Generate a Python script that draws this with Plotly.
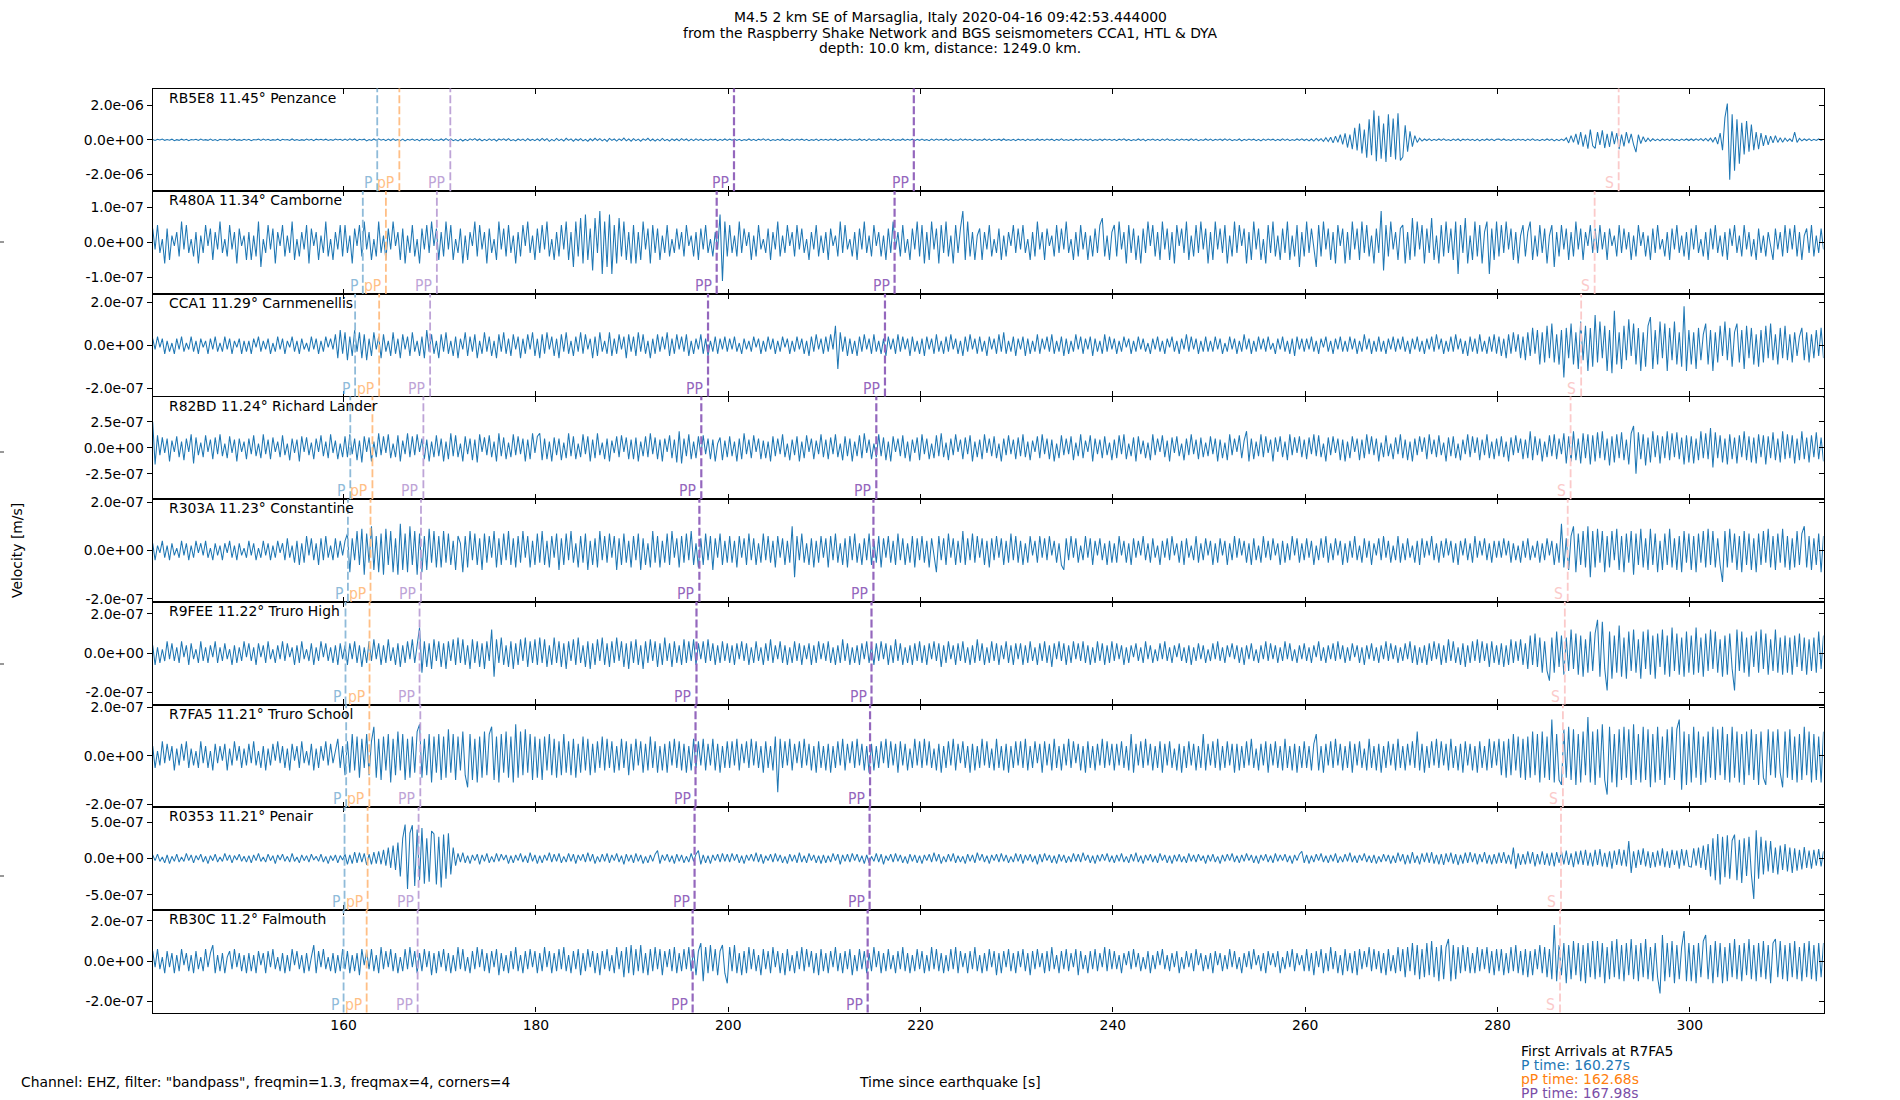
import plotly.graph_objects as go

W, H = 1900, 1100

# ---------------- data ----------------
stations = ["RB5E8", "R480A", "CCA1", "R82BD", "R303A", "R9FEE", "R7FA5", "R0353", "RB30C"]
distances = ["11.45", "11.34", "11.29", "11.24", "11.23", "11.22", "11.21", "11.21", "11.2"]
places = ["Penzance", "Camborne", "Carnmenellis", "Richard Lander", "Constantine",
          "Truro High", "Truro School", "Penair", "Falmouth"]

# arrival times (s since earthquake) per station
P_t = [163.5, 162.0, 161.2, 160.7, 160.45, 160.2, 160.27, 160.1, 160.0]
pP_t = [165.8, 164.4, 163.7, 163.0, 162.8, 162.7, 162.68, 162.5, 162.4]
PP1_t = [171.1, 169.7, 169.0, 168.3, 168.05, 167.9, 167.98, 167.8, 167.7]
PP2_t = [200.6, 198.8, 197.9, 197.2, 197.0, 196.7, 196.6, 196.5, 196.3]
PP3_t = [219.3, 217.3, 216.3, 215.4, 215.1, 214.9, 214.75, 214.7, 214.5]
S_t = [292.6, 290.1, 288.7, 287.6, 287.3, 287.0, 286.8, 286.6, 286.5]

# y axis: half range and tick step (m/s)
y_half = [3.0e-6, 1.47e-7, 2.38e-7, 4.94e-7, 2.12e-7, 2.61e-7, 2.12e-7, 7.1e-7, 2.55e-7]
y_step = [2e-6, 1e-7, 2e-7, 2.5e-7, 2e-7, 2e-7, 2e-7, 5e-7, 2e-7]
x_ticks = [160, 180, 200, 220, 240, 260, 280, 300]

# sampling of the (decimated) traces
t_start = 140.15
dt = 0.25
UNIT = 1e-8  # trace values below are in units of 1e-8 m/s

rb5e8 = [
 2,-4,3,-1,5,-3,2,-2,4,-5, 1,-3,4,-2,3,-5,2,-1,3,-4, 5,-2,1,-3,4,-4,2,-5,3,-1, 2,-3,5,-2,4,-3,1,-4,3,-2,
 3,-5,2,-1,4,-3,5,-2,3,-4, 1,-2,4,-5,3,-1,2,-4,5,-3, 2,-4,1,-3,5,-2,3,-5,4,-1, 3,-2,4,-4,2,-3,5,-1,3,-4,
 4,-3,6,-2,5,-5,3,-1,4,-6, 2,-4,5,-3,6,-2,3,-5,4,-4, 6,-3,2,-5,4,-6,3,-2,5,-4, 3,-6,4,-2,5,-3,6,-5,2,-4,
 5,-4,7,-3,6,-5,2,-6,4,-7, 3,-5,6,-2,7,-4,5,-6,3,-5, 6,-3,4,-7,5,-2,6,-4,7,-5, 2,-6,5,-3,4,-6,7,-4,3,-5,
 6,-5,8,-4,7,-9,3,-6,8,-5, 4,-7,9,-3,6,-8,5,-4,7,-6, 3,-8,6,-5,9,-4,7,-6,4,-9, 8,-3,5,-7,6,-4,10,-6,5,-8,
 7,-5,4,-8,6,-3,9,-6,5,-7, 4,-6,8,-5,3,-7,6,-4,5,-6, 7,-3,5,-6,4,-5,6,-3,4,-5, 3,-4,5,-2,4,-5,3,-4,5,-3,
 4,-2,5,-4,3,-5,2,-3,5,-4, 3,-5,4,-2,6,-3,4,-5,2,-4, 3,-4,5,-3,2,-5,4,-3,5,-2, 4,-4,3,-5,2,-3,4,-5,3,-2,
 3,-4,5,-2,4,-5,3,-3,4,-2, 5,-4,2,-3,5,-4,3,-5,6,-3, 2,-4,5,-3,4,-2,3,-5,4,-4, 2,-3,5,-4,3,-2,4,-5,3,-3,
 4,-3,2,-5,4,-3,5,-2,3,-4, 5,-3,4,-5,2,-4,6,-3,4,-2, 3,-5,4,-3,2,-4,5,-3,4,-5, 3,-2,4,-4,5,-3,2,-4,3,-5,
 4,-2,3,-5,4,-3,2,-4,5,-3, 3,-4,5,-2,4,-5,3,-3,6,-4, 2,-4,3,-5,4,-2,5,-4,3,-3, 4,-5,2,-3,4,-4,5,-2,3,-4,
 3,-5,4,-2,6,-4,3,-5,2,-4, 5,-3,4,-6,3,-2,5,-4,3,-5, 4,-3,6,-4,2,-5,4,-3,5,-2, 3,-4,6,-3,4,-5,2,-4,5,-3,
 4,-5,3,-2,5,-4,6,-3,4,-5, 2,-4,5,-6,3,-4,5,-2,4,-5, 3,-6,4,-3,5,-2,4,-5,3,-4, 6,-3,4,-5,2,-4,5,-3,6,-4,
 4,-6,5,-7,8,-5,7,-9,12,-10, 15,-18,22,-14,30,-26,38,-45,30,-55, 70,-62,95,-80,60,-105,120,-90,172,-125, 140,-110,95,-130,150,-100,125,-115,155,-120,
 -100,85,-70,50,-40,25,-15,10,-7,5, -4,6,-5,3,-4,5,-3,6,-4,2, -5,4,-3,5,-6,4,-2,5,-4,3, -5,4,-6,3,-4,5,-3,4,-5,3,
 4,-3,5,-4,2,-5,4,-3,5,-2, 3,-5,4,-3,6,-4,2,-5,3,-4, 5,-3,4,-6,3,-5,4,-4,12,-18, 25,-15,35,-28,45,-40,30,-52,60,-35,
 -50,45,-30,55,-48,35,-42,50,-25,40, -55,30,-38,45,-20,35,-28,-72,30,-22, 18,-12,10,-8,6,-5,4,-6,5,-3, 4,-5,6,-4,3,-5,4,-3,5,-4,
 5,-4,6,-3,7,-5,8,-6,10,-12, 15,-25,40,-60,130,212,-233,150,-180,120, -140,100,-85,110,-70,90,-60,45,-55,40, -35,28,-30,22,-18,25,-15,12,-14,10,
 -8,6,-10,45,-15,8,-6,5,-4,6,-5,3,-4,5,-3,4,
]

r480a = [
 4,-2,5,-3,1,-6,4,-5,2,-1, 3,-4,6,-2,5,-3,1,-4,3,-6, 2,-3,5,-1,4,-5,3,-2,6,-3, 1,-4,5,-2,3,-6,4,-1,2,-5,
 3,-5,2,-4,6,-7,1,-3,5,-2, 4,-6,3,-1,5,-4,2,-3,6,-5, 1,-4,3,-2,5,-6,4,-1,3,-5, 2,-3,6,-4,1,-5,3,-2,5,-4,
 5,-3,2,-6,4,-1,5,-4,6,-2, 3,-5,1,-4,6,-3,2,-5,4,-2, 6,-1,3,-5,4,-6,2,-3,5,-4, 1,-6,4,-2,5,-3,6,-1,4,-5,
 3,-4,6,-2,5,-5,1,-3,4,-6, 2,-5,3,-1,6,-4,5,-2,3,-6, 4,-3,1,-5,6,-2,4,-4,5,-3, 2,-6,3,-4,5,-1,6,-3,2,-5,
 4,-3,5,-2,6,-4,1,-5,3,-4, 5,-2,6,-5,3,-7,6,-4,7,-6, 8,-5,4,-8,7,-3,9,-9,6,-7, 8,-9,5,-6,7,-4,6,-5,3,-6,
 5,-6,3,-5,6,-2,4,-6,5,-3, 4,-5,2,-3,5,-4,1,-3,4,-2, 3,-4,5,-1,2,-4,3,-5,4,-2, 5,-3,1,-4,3,-2,8,-11,6,-4,
 5,-3,2,-4,6,-3,4,-1,3,-5, 2,-4,5,-2,1,-3,4,-5,3,-2, 6,-4,2,-3,5,-1,3,-4,5,-2, 4,-3,1,-5,3,-2,5,-4,2,-3,
 3,-5,4,-1,2,-4,6,-3,5,-2, 1,-4,3,-5,4,-2,6,-3,2,-4, 5,-1,3,-4,2,-5,4,-3,6,-2, 3,-4,5,-3,1,-5,4,-2,6,-4,
 5,-6,3,-5,6,-2,4,-6,5,-3, 6,-4,2,-6,5,-3,4,9,-5,6, -4,3,-5,2,4,-5,3,-2,5,-4, 1,-3,4,-5,2,-4,3,-1,5,-3,
 4,-2,5,-3,1,-5,3,-4,6,-2, 3,-5,4,-1,2,-4,5,-3,4,-2, 6,-3,1,-5,3,-4,5,-2,3,-5, 2,-4,4,-3,5,7,-4,2,-5,3,
 5,-4,6,-2,3,-6,5,-3,4,-5, 2,-6,4,-3,6,-1,5,-4,3,-5, 6,-2,4,-5,3,-6,5,-1,4,-3, 6,-5,2,-4,5,-3,6,-2,4,-6,
 3,-5,6,-2,4,-3,5,-6,2,-4, 6,-3,5,-1,4,-6,3,-5,6,-2, 4,-5,1,-6,5,-3,6,-4,2,-5, 4,-3,6,-5,2,-4,5,-7,3,-4,
 6,-3,4,-2,-7,5,-4,6,-2,4, -5,3,-6,5,-1,4,-6,3,-5,6, -2,4,-5,6,-3,5,-4,2,-6,4, -3,9,-8,5,-4,6,-2,3,-5,4,
 5,-6,3,-5,7,-4,6,-2,5,-6, 4,-3,7,-5,2,-6,5,-4,6,-3, 4,-5,6,-9,5,-3,7,-6,2,-5, 6,-4,5,-6,3,6,-9,4,-5,6,
 -4,5,-3,6,-2,4,-5,3,-6,2, 5,-4,3,6,-5,2,-4,5,-3,4, -6,2,5,-7,3,-4,5,-2,4,-5, 3,-4,6,-2,4,-5,3,-1,5,-3,
 4,-3,5,-2,3,-5,4,-1,2,-4, 5,-3,4,-2,3,-5,2,-4,5,-1, 3,-4,2,-5,4,-3,5,-2,1,-4, 3,-5,4,-2,5,-3,2,-4,3,-5,
 4,-2,5,-3,1,-4,3,-5,4,-2, 5,-3,2,-4,3,-5,4,-1,5,-3, 2,-4,5,-2,3,-4,1,-5,4,-3, 2,-4,3,-1,-5,4,-2,3,-4,5,
 -3,4,-2,5,-4,3,-5,2,4,-3,5,-4,2,-3,4,-2,
]

cca1 = [
 3,-2,4,-1,3,-4,2,-3,1,-4, 3,-2,4,-3,1,-2,4,-3,2,-4, 3,-1,2,-4,3,-2,4,-3,1,-3, 4,-2,3,-4,2,-1,3,-4,2,-3,
 2,-4,3,-1,4,-3,2,-2,3,-4, 1,-3,4,-2,3,-4,2,-1,4,-3, 2,-4,3,-2,1,-3,4,-2,3,-4, 2,-3,4,-1,3,-2,5,-6,7,-4,
 6,-7,4,-5,7,-3,6,-6,5,-7, 3,-5,6,-2,4,-6,5,-3,2,-5, 6,-4,3,-6,5,-2,4,-5,6,-3, 2,-5,4,-6,7,-3,5,-4,2,-6,
 5,-3,6,-4,2,-5,4,-6,3,-2, 6,-5,4,-3,5,-6,2,-4,6,-3, 4,-5,2,-6,5,-3,6,-4,3,-5, 5,-2,4,-6,3,-4,5,-2,6,-5,
 3,-6,5,-4,6,-2,4,-5,3,-6, 5,-3,6,-4,2,-5,4,-3,6,-4, 5,-2,3,-6,4,-5,6,-3,2,-4, 6,-5,3,-4,5,-2,4,-6,5,-3,
 4,-5,6,-3,5,-4,2,-6,3,-4, 5,-3,4,-2,6,-5,3,-4,5,-2, 4,-3,5,-5,2,-4,3,-2,5,-4, 3,-5,2,-3,4,-4,3,-2,4,-3,
 3,-2,4,-3,1,-4,3,-2,2,-3, 4,-1,3,-4,2,-3,4,-2,3,-4, 2,-3,4,-1,3,-4,2,-3,4,-2, 3,-4,2,-5,4,-3,5,-2,3,-4,
 4,-3,5,-2,9,-11,6,-3,4,-5, 3,-4,2,-5,4,-3,5,-2,3,-4, 5,-3,2,-4,3,-5,4,-2,3,-4, 5,-3,4,-2,3,-5,4,-3,2,-4,
 3,-5,4,-2,3,-4,5,-3,2,-4, 4,-3,5,-2,3,-4,2,-5,4,-3, 5,-2,3,-4,4,-3,2,-5,4,-2, 3,-4,5,-3,6,-4,2,-3,4,-5,
 3,-2,4,-5,3,-4,2,-3,5,-4, 3,-2,4,-3,5,-4,2,-3,4,-5, 3,-4,2,-3,5,-2,4,-4,3,-2, 4,-5,3,-3,2,-4,5,-3,4,-2,
 3,-4,2,-3,4,-1,3,-4,2,-3, 4,-2,3,-3,1,-4,3,-2,4,-3, 2,-4,3,-1,4,-3,2,-4,3,-2, 5,-3,4,-2,3,-4,2,-3,4,-3,
 2,-3,4,-2,3,-4,1,-3,4,-2, 3,-4,2,-3,5,-2,3,-4,2,-3, 4,-2,3,-3,4,-2,1,-4,3,-2, 4,-3,2,-4,3,-5,4,-2,3,-3,
 3,-2,4,-3,2,-4,3,-1,4,-3, 2,-4,3,-2,4,-3,2,-3,4,-2, 3,-4,2,-3,5,-2,3,-4,2,-3, 4,-3,2,-4,3,-2,4,-3,3,-2,
 4,-3,2,-4,3,-2,4,-3,2,-4, 3,-2,4,-3,5,-2,3,-4,2,-3, 4,-3,5,-2,3,-4,2,-5,4,-3, 3,-4,5,-3,2,-4,4,-3,5,-4,
 4,-5,3,-6,5,-4,6,-3,5,-6, 4,-7,6,-5,8,-4,7,-9,6,-8, 9,-6,10,-8,5,-9,7,-15,8,-6, 10,-9,6,-11,11,-7,9,-12,8,-10,
 14,-8,11,-6,9,-12,7,-13,16,-9, 6,-11,9,-7,12,-5,10,-9,8,-12, 6,-10,9,13,-11,7,-9,11,-6,10, -12,8,-7,11,-9,6,-10,18,-12,7,
 -9,6,-11,8,-7,5,10,-9,7,-12, 6,-8,9,-5,11,-7,8,-10,6,10, -8,7,-11,9,-6,8,-9,5,-10,7, -8,9,-6,10,-7,5,-9,8,-6,9,
 -7,5,-8,6,-5,4,8,-7,6,-8,5,-6,7,-5,8,-6,
]

r82bd = [
 25,-16,12,-7,10,-5,9,-13,7,-4, 11,-9,6,-12,9,-4,13,-15,10,-7, 5,-9,12,-4,8,-11,10,-6,13,-8, 4,-10,11,-5,8,-13,9,-4,6,-11,
 9,-6,12,-8,4,-10,13,-6,8,-11, 10,-4,6,-9,12,-7,4,-12,9,-5, 8,-13,11,-4,10,-7,5,-11,9,-4, 12,-8,6,-10,13,-5,7,-11,4,-9,
 11,-9,13,-6,9,-12,7,-14,11,-4, 10,-13,6,-9,14,-7,11,-5,13,-10, 4,-9,12,-13,7,-6,14,-9,11,-7, 13,-4,9,-11,8,-13,6,-9,12,-8,
 9,-13,6,-11,14,-8,12,-9,4,-13, 11,-6,9,-12,8,-14,13,-4,10,-7, 12,-9,6,-13,14,-8,10,-11,5,-9, 13,-7,11,-6,9,-13,8,-11,14,-5,
 11,14,-12,9,-11,6,-13,10,-7,9, -12,5,-10,14,-8,11,-11,4,-9,13, -6,11,-13,8,-10,14,-7,5,-11,9, -13,7,-5,11,-9,12,-4,10,-11,8,
 -11,10,-13,6,-8,11,-9,14,-6,10, -11,8,-13,9,-4,12,-10,8,-14,16, -15,9,-8,13,-11,6,-10,11,-7,12, -6,9,-11,8,-13,4,10,-12,7,-9,
 11,-8,6,-13,9,-11,14,-6,8,-10, 12,-4,9,-11,7,-10,6,-13,11,-8, 9,-6,13,-9,4,-12,8,-7,11,-13, 6,-10,12,-4,9,-11,7,-6,13,-9,
 8,-11,10,-6,13,-9,4,-12,11,-8, 9,-13,6,-8,12,-10,14,-5,8,-11, 4,-9,13,-8,10,-12,6,-13,11,-4, 9,-8,12,-10,6,-13,8,-5,10,-12,
 13,-6,9,-11,4,-10,12,-8,14,-9, 5,-12,9,-7,13,-4,8,-11,10,-6, 12,-13,6,-9,8,-11,13,-5,9,-8, 11,-10,4,-13,9,-7,12,-6,8,-11,
 10,-8,13,-9,6,-12,7,-4,11,-10, 13,-6,9,-11,8,-13,4,-10,12,-7, 9,-6,11,-12,5,-8,13,-10,7,-4, 12,-13,9,-6,8,-10,11,-7,5,-12,
 8,-10,12,-6,13,-11,4,-8,10,-13, 11,-6,7,-10,5,-12,13,-7,9,-4, 12,-9,7,-13,10,-5,11,-8,4,-12, 9,-7,13,-6,8,-11,10,-9,5,-8,
 11,-6,9,-13,8,-10,5,-12,13,-7, 9,-4,12,-10,7,16,-13,9,-11,6, -8,13,-9,11,-5,8,-13,10,-4,11, -9,6,-12,13,-7,10,-5,11,-9,8,
 -11,10,-6,13,-8,12,-9,4,-13,10, -7,11,-5,9,-12,8,-13,6,-10,11, -4,9,-12,8,-10,13,-6,11,-7,9, -13,5,-9,12,-8,4,-11,10,-6,13,
 -10,8,-12,6,-13,9,-7,11,-4,10, -11,13,-6,8,-9,12,-7,5,-13,10, -8,11,-10,4,-12,8,-6,13,-9,11, -5,10,-12,8,-7,13,-10,6,-11,9,
 -8,11,-9,6,-13,10,-7,12,-5,9, -11,8,-10,16,-12,11,-7,9,-13,6, -9,12,-8,13,-11,9,-6,14,-15,11, -13,16,-12,9,-15,14,-10,13,-16,12,
 -13,15,-10,16,-12,9,-17,11,-14,13, -10,15,-12,8,-16,14,21,-25,15,-11, 13,-17,10,-14,16,-9,12,-15,11,-10, 16,-12,14,-9,15,-11,10,-16,12,-14,
 11,-15,9,-12,16,-10,14,-11,19,-19, 15,-10,12,-14,9,-16,13,-11,10,-15, 12,-9,16,-12,11,-14,10,-15,13,-9, 12,-16,11,-10,15,-12,9,-14,16,-11,
 13,-10,12,-15,9,-12,16,-11,10,-14,12,-9,15,-11,10,-13,
]

r303a = [
 3,-4,2,-1,4,-3,2,-4,3,-2, 1,-3,4,-2,3,-4,2,-3,4,-1, 3,-2,4,-3,1,-4,3,-2,2,-4, 3,-1,4,-3,2,-4,3,-2,1,-3,
 4,-2,3,-4,1,-3,4,-2,3,-4, 2,-3,4,-1,3,-4,5,-3,2,-5, 4,-6,3,-5,6,-2,5,-4,3,-6, 5,-4,6,-3,2,-4,5,-3,4,-2,
 4,7,-9,5,-4,8,-6,9,-10,7, -5,10,-8,6,-9,7,-10,9,-6,8, -9,5,-10,11,-8,7,-9,10,-6,8, -10,7,-9,6,-8,9,-5,8,-7,6,
 -7,8,-5,7,-6,4,-8,6,3,-9, 6,-7,8,-4,7,-6,5,-8,7,-5, 6,-3,8,-7,5,-6,7,-4,8,-6, 5,-7,6,-5,8,-3,6,-7,4,-6,
 7,-5,8,-6,4,-7,6,-3,7,-8, 5,-6,7,-4,8,-5,3,-7,6,-5, 7,-8,4,-6,5,-7,8,-4,6,-5, 7,-3,6,-8,5,-6,7,-5,4,-7,
 6,-4,7,-8,5,-6,3,-7,8,-5, 6,-7,4,-5,7,-6,8,-3,5,-7, 6,-5,7,-4,8,-6,3,-7,5,-6, 7,-4,6,-8,5,-3,7,-6,4,-5,
 6,-5,4,-7,6,-3,5,-6,7,-4, 5,-6,3,-5,7,-4,6,-5,4,-7, 6,-3,5,-6,4,-5,10,-11,6,-4, 7,-5,3,-6,5,-7,4,-5,6,-3,
 5,-7,6,-4,7,-5,3,-6,5,-7, 6,-4,7,-5,3,-6,5,-4,7,-6, 4,-5,6,-7,5,-3,6,-5,4,-6, 7,-4,5,-6,3,-5,6,-7,5,-4,
 6,-5,4,-7,5,-3,-9,6,-4,5, -6,7,-3,5,-6,4,-5,8,-6,5, -4,7,-5,6,-3,5,-6,4,-7,5, -4,6,-3,5,-6,4,-5,7,-4,6,
 -5,4,-6,3,-5,6,-2,4,-5,6, -3,5,-4,6,-2,4,-5,3,-6,-8, 5,-4,6,-3,5,-5,2,-4,6,-3, 5,-6,4,-2,5,-4,3,-6,4,-5,
 3,-5,6,-2,4,-5,3,-6,5,-3, 4,-2,6,-4,3,-5,5,-3,2,-6, 4,-3,5,-4,6,-2,3,-5,4,-6, 5,-3,2,-4,6,-5,3,-4,5,-2,
 4,-6,3,-5,5,-2,4,-6,3,-4, 6,-3,5,-2,4,-5,3,-6,5,-4, 2,-5,6,-3,4,-4,5,-2,3,-6, 4,-5,3,-4,6,-2,5,-5,3,-4,
 5,-3,4,-6,2,-4,5,-3,6,-5, 3,-4,5,-2,4,-6,3,-5,4,-3, 6,-4,2,-5,5,-3,4,-6,3,-2, 5,-4,6,-3,4,-5,2,-4,6,-5,
 3,-4,5,-3,2,-5,4,-6,5,-3, 4,-2,6,-4,3,-5,4,-3,5,-2, 4,-5,3,-6,4,-2,5,-4,3,-5, 6,-3,4,-2,5,-4,3,-5,4,-3,
 4,-3,5,-2,4,-5,3,-4,2,-5, 4,-3,5,-4,2,-3,4,-5,3,-4, 5,-2,4,-6,3,-5,11,-7,5,-8, 6,10,-9,7,-6,8,-7,10,-11,8,
 -7,9,-5,8,-9,6,-7,8,-4,9, -8,6,-9,7,-5,8,-10,7,-6,9, -7,5,-8,9,-6,7,-9,4,-8,7, -6,9,-7,5,-8,6,-9,8,-5,7,
 -8,6,-9,7,-5,8,-7,9,-6,8, -7,5,-6,-13,8,-7,9,-5,7,-8, 6,-9,8,-6,7,-8,5,-9,7,-6, 8,-5,9,-7,6,-8,7,-5,9,-7,
 6,-8,5,-7,8,-6,7,10,-7,6,-8,5,-6,7,-9,6,
]

r9fee = [
 4,-6,3,-5,2,-4,6,-3,5,-4, 3,-5,6,-2,4,-6,5,-3,2,-5, 6,-4,3,-5,4,-2,6,-5,3,-4, 5,-3,2,-6,4,-5,3,-4,6,-2,
 5,-4,3,-6,5,-2,4,-5,6,-3, 2,-5,4,-3,6,-4,5,-2,3,-6, 4,-5,6,-3,2,-4,5,-6,3,-4, 6,-2,5,-4,3,-5,4,-6,5,-3,
 4,-6,5,-3,6,-5,4,-7,3,-5, 6,-4,7,-3,5,-6,4,-5,7,-4, 3,-6,5,-7,4,-5,6,-3,7,-5, 4,13,-10,6,-7,5,-8,7,-4,6,
 -7,5,-8,6,-4,7,-6,8,-5,7, -6,4,-8,7,-5,6,-7,5,-8,6, -4,12,-12,7,-5,8,-6,4,-7,6, -8,5,-6,7,-4,8,-7,6,-5,7,
 -6,8,-5,7,-7,4,-6,8,-5,6, -7,5,-8,6,-4,7,-6,8,-5,4, -7,6,-8,5,-6,7,-4,8,-6,5, -7,6,-5,8,-4,6,-7,5,-8,6,
 -5,7,-6,4,-8,6,-5,7,-4,6, -7,5,-6,8,-4,5,-7,6,-5,4, -6,7,-5,6,-4,7,-6,5,-3,6, -5,7,-4,5,-6,4,-5,6,-4,5,
 -5,4,-6,5,-3,6,-4,5,-6,3, -5,6,-4,3,-6,5,-4,7,-5,4, -3,6,-5,4,-6,3,-5,6,-4,5, -6,4,-3,5,-6,4,-5,6,-3,5,
 -4,6,-5,3,-6,4,-5,7,-4,5, -6,3,-5,4,-6,5,-3,6,-5,4, -6,5,-4,6,-3,5,-6,4,-5,7, -4,5,-6,3,-5,4,-6,5,-4,6,
 -5,4,-6,5,-3,6,-4,5,-7,4, -5,6,-3,4,-6,5,-4,6,-5,3, -6,4,-5,7,-4,5,-6,3,-5,6, -4,5,-6,4,-3,6,-5,4,-6,5,
 -3,5,-6,4,-5,6,-4,3,-6,5, -4,6,-5,4,-7,5,-3,6,-4,5, -6,4,-5,6,-3,5,-4,6,-5,4, -6,3,-5,6,-4,5,-6,4,-5,6,
 -4,5,-3,4,-6,3,-5,4,-2,5, -4,3,-5,6,-3,4,-5,2,-4,5, -3,6,-4,3,-5,4,-2,5,-4,3, -5,4,-6,3,-4,5,-3,4,-5,2,
 -4,5,-3,6,-4,3,-5,4,-2,5, -3,4,-5,3,-6,4,-3,5,-4,2, -5,4,-3,6,-4,5,-3,4,-5,3, -4,6,-3,5,-4,2,-5,4,-3,5,
 -4,3,-5,4,-2,6,-4,3,-5,4, -3,5,-4,6,-3,4,-5,3,-4,5, -2,4,-5,3,-6,4,-3,5,-4,3, -5,4,-3,6,-4,5,-3,4,-5,3,
 -4,5,-3,6,-5,4,-6,3,-5,4, -6,5,-4,6,-3,5,-6,4,-5,7, -4,6,-5,3,-6,5,-7,4,-5,6, -4,7,-5,6,-4,5,-7,6,-5,4,
 -6,5,-7,4,-6,7,-5,6,-4,7, -6,5,-8,9,-6,10,-7,8,-10,6, -9,-14,8,-10,11,-7,9,-11,8,-9, 12,-8,10,-11,9,-12,7,-10,11,-9,
 10,17,-12,16,-8,-19,11,-13,9,-10, 14,-12,8,-13,11,-9,12,-10,7,-13, 11,-8,12,-11,9,-13,10,-7,12,-11, 9,-12,13,-9,10,-11,8,-12,11,-10,
 9,-11,13,-10,8,-12,10,-9,12,-8, 11,-10,7,-12,9,-11,10,-8,-19,12, -9,11,-10,8,-12,9,-7,11,-10,12, -8,10,-11,7,-9,12,-10,8,-11,9,
 -10,8,-11,9,-7,10,-9,8,-11,7,-9,8,-10,11,-8,9,
]

r7fa5 = [
 4,-5,2,-4,6,-3,5,-2,4,-6, 3,-4,5,-2,6,-5,3,-4,2,-5, 6,-3,4,-5,2,-6,5,-3,4,-2, 5,-6,3,-4,6,-2,4,-5,3,-4,
 5,-3,6,-4,2,-5,4,-6,3,-4, 5,-2,6,-3,4,-5,3,-6,5,-2, 4,-5,6,-3,2,-4,5,-6,3,-5, 4,-2,6,-4,5,-3,2,7,-5,4,
 -8,6,-7,9,-6,8,-9,7,-5,9, -8,6,12,-9,7,-10,8,-6,9,-11, 7,-8,10,-6,9,-10,7,-9,8,-7, 10,13,-9,7,-8,9,-11,8,-7,9,
 -10,8,-9,11,-7,9,-10,8,-6,10, -8,-13,9,-10,7,-11,8,-9,10,-8, 9,12,-10,8,-11,9,-7,10,-9,8, -11,13,-9,10,-8,11,-7,9,-10,8,
 -9,7,-10,8,-6,9,-8,7,-9,6, -8,9,-7,6,-8,7,-9,5,-7,8, -6,7,-8,5,-7,6,-5,8,-6,7, -5,6,-7,4,-6,7,-5,6,-8,5,
 -6,7,-4,6,-7,5,-6,8,-5,6, -7,4,-6,5,-7,6,-4,7,-5,6, -6,5,-7,4,-6,7,-5,6,-4,7, -6,5,-4,7,-6,5,-7,4,-5,6,
 -5,6,-4,7,-6,5,-3,6,-5,7, -4,6,-5,4,-7,6,-5,4,-6,8, -15,7,-5,6,-4,7,-6,5,-3,6, -5,7,-4,5,-6,4,-7,6,-5,4,
 -6,5,-7,4,-5,6,-4,7,-6,5, -3,6,-5,7,-4,5,-6,4,-7,5, -6,4,-5,6,-3,7,-5,6,-4,5, -7,6,-4,5,-6,3,-5,7,-4,6,
 -5,7,-4,6,-5,3,-6,5,-7,4, -5,6,-4,7,-6,5,-3,6,-5,4, -7,5,-6,4,-5,7,-4,6,-5,3, -6,7,-5,4,-6,5,-7,4,-5,6,
 -4,6,-5,7,-6,4,-5,6,-3,5, -7,6,-4,5,-6,7,-5,4,-6,5, -4,7,-5,6,-3,5,-6,4,-7,6, -5,4,-6,5,-4,7,-5,6,-4,5,
 -6,5,-4,6,-5,4,-6,9,-7,5, -4,6,-5,7,-4,5,-6,4,-5,6, -7,5,-4,6,-5,3,-6,5,-7,4, -5,6,-4,5,-6,4,-5,9,-6,5,
 -4,6,-5,7,-6,4,-5,6,-4,5, -7,5,-6,4,-5,6,-4,7,-5,3, -6,5,-4,6,-7,5,-4,6,-5,4, -6,7,-5,4,-6,5,-7,4,-5,6,
 -5,4,-6,5,9,-6,4,-7,5,-4, 6,-5,7,-4,5,-6,4,-5,6,-7, 5,-4,6,-5,3,-6,7,-5,4,-6, 5,-7,4,-5,6,-4,5,-6,7,-5,
 4,-6,5,-4,6,-5,10,-6,5,-7, 4,-5,6,-4,7,-5,6,-4,5,-6, 7,-5,4,-6,5,-7,6,-4,5,-6, 4,-7,6,-5,4,-6,7,-5,6,-4,
 7,-8,6,-9,7,-8,9,-6,8,-9, 7,-10,8,-9,10,-8,9,-11,10,-9, 8,-10,15,-11,9,-10,-12,11,-9,12, -10,11,-12,9,-11,10,-8,16,-11,10,
 -12,11,-9,13,-10,-16,12,-11,9,-13, 11,-10,12,-9,11,-12,13,-10,9,-11, 12,-10,11,-13,9,-11,12,-10,8,-12, 11,-9,12,-10,11,15,-14,10,-12,9,
 -11,12,-9,10,-12,8,-11,10,-9,12, -10,11,-8,12,-10,9,-11,12,-9,10, -11,9,-12,10,-8,11,-10,9,-12,10, -9,-12,11,-8,10,-9,11,-7,-13,10,
 -9,11,-10,8,-11,9,-10,12,-8,10,-11,9,-10,8,-11,10,
]

r0353 = [
 5,-3,6,-4,2,-6,5,-7,3,-4, 6,-5,2,-4,7,-3,5,-6,4,-2, 6,-5,3,-7,4,-3,6,-5,2,-4, 7,-3,5,-6,4,-2,6,-4,3,-5,
 4,-6,5,-3,7,-4,2,-5,6,-3, 4,-7,5,-2,6,-4,3,-5,7,-4, 2,-6,5,-3,4,-5,6,-2,3,-4, 6,-5,3,-7,4,-3,5,-6,4,-2,
 6,-8,5,-7,9,-6,8,-5,7,-9, 6,-8,9,-7,10,-8,12,-10,15,-13, 18,-16,22,-25,28,47,-42,35,46,-38, 40,-30,42,-35,28,-32,38,34,-36,30,
 -40,33,-28,35,-22,15,-10,7,-5,8, -6,4,-7,5,-3,6,-8,5,-4,7, -6,3,-5,7,-4,6,-2,5,-7,4, -6,5,-3,7,-5,4,-6,8,-4,5,
 -7,4,-6,5,-3,8,-5,6,-4,7, -6,3,-5,7,-4,6,-7,5,-3,6, -5,8,-4,6,-7,3,-5,6,-4,7, -6,5,-3,7,-5,4,-8,6,-4,5,
 -6,7,-4,5,-7,3,-6,5,-4,6, 11,-7,5,-3,6,-5,4,-7,6,-4, 5,-6,3,-5,7,-4,6,11,-8,5, -6,4,-7,5,-3,6,-5,7,-4,6,
 -5,7,-3,6,-6,4,-7,5,-3,6, -4,8,-5,6,-7,4,-3,6,-5,7, -4,5,-6,3,-7,6,-4,5,-6,8, -5,4,-6,7,-3,5,-6,4,-7,5,
 -6,4,-5,7,-3,6,-8,5,-4,6, -5,7,-3,6,-5,4,-7,5,-6,3, -4,7,-5,6,-8,4,-3,6,-5,7, -4,5,-6,3,-7,6,-4,5,-6,4,
 -7,5,-3,6,-5,8,-4,6,-7,3, -5,6,-4,7,-6,4,-5,3,-7,6, -4,5,-6,8,-3,6,-5,4,-7,5, -3,6,-5,7,-4,5,-6,3,-5,7,
 -4,6,-7,5,-3,6,-5,4,-8,6, -5,7,-3,5,-6,4,-7,6,-4,5, -6,3,-5,7,-4,6,-5,8,-3,5, -6,4,-7,5,-4,6,-3,7,-5,4,
 -6,5,-4,7,-5,3,-6,6,-4,8, -5,4,-7,5,-3,6,-5,4,-6,7, -3,5,-6,4,-7,5,-4,6,-5,3, -6,7,-4,5,-5,6,-3,4,-7,5,
 -4,6,-5,3,-7,5,-4,6,-3,7, -5,4,-6,5,-4,7,-3,5,-6,4, -7,5,-3,6,-5,4,-6,7,-4,5, -3,6,-5,4,-7,5,-3,6,10,-6,
 5,-7,4,-5,6,-3,7,-5,4,-6, 5,-4,7,-6,3,-5,6,-4,8,-5, 4,-6,5,-3,7,-5,4,-6,5,-7, 3,-5,6,-4,5,-7,4,-6,8,-4,
 6,-8,5,-7,9,-6,4,-8,7,-5, 8,-6,9,-7,5,-8,6,-9,7,-5, 8,-7,6,-9,5,-7,8,-6,9,-5, 7,-8,6,-5,9,-7,5,-8,6,-7,
 8,-6,9,-7,5,-8,15,-14,7,-9, 6,-8,10,-7,9,-11,6,-8,10,-9, 7,-10,8,-11,9,-6,10,-8,11,-9, 7,-12,10,-8,11,-9,12,-10,8,-11,
 12,-9,13,-11,8,-12,10,-14,11,-9, 13,-10,12,-11,24,-20,10,-13,12,-9, 14,-11,10,-13,9,-12,11,-10,14,-12, 10,-13,12,-9,11,-14,13,-10,12,-11,
 -12,14,-10,15,-13,18,-16,20,-25,28, -30,34,-36,30,-26,32,-28,25,33,-30, 26,-34,28,-24,30,-22,-56,39,-28,30, -22,25,-18,24,-20,15,-22,18,-16,20,
 -18,15,-20,14,-17,12,-15,16,-13,11,-14,12,-10,13,-11,10,
]

rb30c = [
 5,-3,6,-4,2,-6,5,-3,4,-6, 3,-5,6,-2,4,-5,3,-6,5,-4, 2,-5,6,-3,4,8,-6,3,-5,4, -6,2,5,-4,6,-3,4,-5,3,-6,
 4,-5,3,-6,5,-2,4,-6,5,-3, 6,-4,2,-5,4,-6,3,-5,6,-2, 5,-4,3,-6,4,-5,2,8,-6,5, -3,6,-4,2,-5,4,-6,3,-5,6,
 -4,5,-6,3,-5,4,-7,6,-2,5, -4,6,-5,3,-6,7,-4,5,-3,6, -5,4,-6,2,-5,6,-4,7,-3,5, -6,4,-5,6,-3,5,-7,4,-6,5,
 -3,6,-5,4,-6,3,-5,7,-4,6, -5,2,-6,5,-4,7,-3,6,-5,4, -6,5,-3,6,-7,4,-5,3,-6,5, -4,7,-5,3,-6,5,-4,6,-3,5,
 -6,4,-5,7,-3,5,-6,4,-5,6, -4,7,-5,3,-6,5,-4,6,-7,4, -5,6,-3,5,-6,4,-7,5,-4,6, -5,3,-6,7,-4,5,-8,7,-6,8,
 -7,6,-5,8,-6,4,-7,6,-5,7, -4,6,-7,5,-3,6,-5,7,-6,4, -5,6,-4,7,-5,6,-7,5,9,-10, 7,-6,8,-5,6,-7,5,8,-6,-11,
 7,-5,8,-6,4,-7,5,-6,7,-4, 6,-5,3,-7,6,-4,5,-6,7,-3, 5,-6,4,-7,6,-5,3,-6,5,-4, 7,-5,6,-3,5,-6,4,-7,6,-5,
 4,-6,5,-3,7,-5,4,-6,5,-4, 6,-7,3,-5,6,-4,5,-6,4,-5, 7,-3,5,-6,4,-5,6,-4,3,-6, 5,-4,7,-5,4,-6,3,-5,6,-4,
 5,-6,3,-5,7,-4,6,-5,4,-6, 3,-5,6,-4,7,-6,5,-3,4,-6, 5,-4,7,-5,3,-6,4,-5,6,-3, 5,-7,4,-6,5,-3,6,-5,4,-6,
 5,-3,6,-5,4,-7,5,-4,6,-3, 4,-6,5,-5,7,-4,3,-6,5,-4, 6,-5,4,-3,6,-7,5,-4,3,-6, 5,-4,6,-5,4,-3,7,-5,6,-4,
 5,-4,3,-6,4,-2,5,-4,6,-3, 4,-5,2,-4,5,-6,3,-4,5,-2, 6,-4,3,-5,4,-3,5,-6,2,-4, 5,-3,4,-5,6,-2,4,-5,3,-4,
 4,-6,5,-2,4,-5,3,-4,6,-3, 5,-4,2,-6,4,-3,5,-4,6,-2, 3,-5,4,-6,5,-2,4,-3,5,-6, 2,-4,5,-3,6,-5,4,-2,3,-5,
 6,-5,4,-7,5,-3,6,-6,4,-5, 7,-4,5,-6,3,-7,6,-5,4,-6, 5,-7,6,-4,5,-3,7,-5,6,-4, 5,-6,4,-7,6,-5,3,-6,7,-5,
 6,-8,7,-5,9,-7,8,-9,6,-8, 9,-7,10,-8,7,-10,8,-9,7,11, -10,8,-9,7,-6,8,-5,7,-6,4, -6,7,-5,6,-4,7,-6,5,-7,6,
 -5,6,-7,4,-6,7,-5,8,-6,5, -7,6,-8,5,-7,6,-4,8,-6,7, -8,6,-9,18,-10,8,-7,9,-11,8, -9,10,-7,9,-10,8,-11,9,-8,10,
 -9,10,-8,9,-11,7,-9,10,-8,11, -9,8,-10,9,-7,11,-9,8,-10,9, -8,11,-9,7,-10,9,-8,-16,13,-10, 9,-8,10,-11,8,-9,7,15,-10,9,
 -10,8,-11,9,-8,10,13,-9,8,-11, 10,-8,9,-11,7,-10,9,-8,11,-9, 8,-10,9,-7,11,-9,8,-10,9,-8, 10,-9,8,-11,9,11,-8,10,-9,8,
 -10,9,-8,10,-9,7,-10,9,-8,10,-9,8,-10,9,-8,9,
]

traces = [rb5e8, r480a, cca1, r82bd, r303a, r9fee, r7fa5, r0353, rb30c]

# ---------------- styling ----------------
FONT = "DejaVu Sans"
LABEL_FONT = "DejaVu Sans Condensed, DejaVu Sans"
FS = 13.9
FS_PHASE = 15.5
BLUE = "#1f77b4"
C_P = "#8fbbd9"
C_pP = "#ffbf86"
C_PP1 = "#bea4d7"
C_PP = "#9467bd"
C_S = "#fbcaca"
DASH = "8px,3px"

x_range = [140.15, 313.9]
top_px, bot_px = 88.5, 1012.5
ph = (bot_px - top_px) / 9
x_dom = [152.7 / W, 1823.5 / W]

fig = go.Figure()
layout = dict(
    width=W, height=H, margin=dict(l=0, r=0, t=0, b=0, pad=0, autoexpand=False),
    paper_bgcolor="white", plot_bgcolor="white",
    showlegend=False, font=dict(family=FONT, size=FS, color="black"),
)
shapes, annotations = [], []

for k in range(9):
    n = "" if k == 0 else str(k + 1)
    xa, ya = "x" + n, "y" + n
    ov = str(k + 10)
    yt = top_px + k * ph
    yb = yt + ph
    dom = [1 - yb / H, 1 - yt / H]
    vals = traces[k]
    t = [t_start + i * dt for i in range(len(vals))]
    y = [v * UNIT for v in vals]
    fig.add_trace(go.Scatter(x=t, y=y, mode="lines", line=dict(color=BLUE, width=1.05),
                             xaxis=xa, yaxis=ya, hoverinfo="skip"))
    fig.add_trace(go.Scatter(x=[None], y=[None], mode="lines", xaxis=xa, yaxis="y" + ov,
                             hoverinfo="skip"))
    h = y_half[k]
    s = y_step[k]
    tv = [-s, 0.0, s]
    tt = [f"{v:.1e}" for v in tv]
    layout["xaxis" + n] = dict(
        domain=x_dom, range=x_range, anchor=ya, tickvals=x_ticks,
        ticktext=[str(v) for v in x_ticks], showticklabels=(k == 8),
        ticks="inside", ticklen=5, tickwidth=1, tickcolor="black", mirror="ticks",
        showline=True, linecolor="black", linewidth=1.3, showgrid=False, zeroline=False,
        automargin=False,
        tickfont=dict(family=FONT, size=FS, color="black"),
    )
    layout["yaxis" + n] = dict(
        domain=dom, range=[-h, h], anchor=xa, tickvals=tv, ticktext=tt,
        ticks="outside", ticklen=5, tickwidth=1, tickcolor="black",
        showline=True, mirror=True, linecolor="black", linewidth=1.3,
        showgrid=False, zeroline=False, automargin=False,
        tickfont=dict(family=FONT, size=FS, color="black"),
    )
    layout["yaxis" + ov] = dict(
        overlaying=ya, side="right", anchor=xa, range=[-h, h], tickvals=tv,
        ticks="inside", ticklen=5, tickwidth=1, tickcolor="black",
        showticklabels=False, showgrid=False, zeroline=False, showline=False,
        automargin=False,
    )
    phases = [
        (P_t[k], "P", C_P, 1.8),
        (pP_t[k], "pP", C_pP, 1.8),
        (PP1_t[k], "PP", C_PP1, 1.8),
        (PP2_t[k], "PP", C_PP, 2.2),
        (PP3_t[k], "PP", C_PP, 2.2),
        (S_t[k], "S", C_S, 1.8),
    ]
    for (tp, lab, col, lw) in phases:
        shapes.append(dict(type="line", xref=xa, yref=ya + " domain", x0=tp, x1=tp,
                           y0=0, y1=1, line=dict(color=col, width=lw, dash=DASH)))
        annotations.append(dict(x=tp, y=0, xref=xa, yref=ya + " domain", text=lab,
                                showarrow=False, xanchor="right", yanchor="bottom",
                                xshift=-3, yshift=-3,
                                font=dict(family=LABEL_FONT, size=FS_PHASE, color=col)))
    annotations.append(dict(x=167 / W, y=1 - (yt - 1) / H, xref="paper", yref="paper",
                            text=f"{stations[k]} {distances[k]}° {places[k]}",
                            showarrow=False, xanchor="left", yanchor="top",
                            font=dict(family=FONT, size=FS, color="black")))

title_lines = [
    "M4.5 2 km SE of Marsaglia, Italy 2020-04-16 09:42:53.444000",
    "from the Raspberry Shake Network and BGS seismometers CCA1, HTL & DYA",
    "depth: 10.0 km, distance: 1249.0 km.",
]
for line, yy in zip(title_lines, [17, 32.7, 48.5]):
    annotations.append(dict(x=0.5, y=1 - yy / H, xref="paper", yref="paper", text=line,
                            showarrow=False, xanchor="center", yanchor="middle",
                            font=dict(family=FONT, size=FS, color="black")))

annotations.append(dict(x=19 / W, y=1 - 1082 / H, xref="paper", yref="paper",
                        text='Channel: EHZ, filter: "bandpass", freqmin=1.3, freqmax=4, corners=4',
                        showarrow=False, xanchor="left", yanchor="middle",
                        font=dict(family=FONT, size=FS, color="black")))
annotations.append(dict(x=0.5, y=1 - 1082 / H, xref="paper", yref="paper",
                        text="Time since earthquake [s]", showarrow=False,
                        xanchor="center", yanchor="middle",
                        font=dict(family=FONT, size=FS, color="black")))
annotations.append(dict(x=17 / W, y=1 - 551 / H, xref="paper", yref="paper",
                        text="Velocity [m/s]", textangle=-90, showarrow=False,
                        xanchor="center", yanchor="middle",
                        font=dict(family=FONT, size=FS, color="black")))

legend_lines = [
    ("First Arrivals at R7FA5", "black"),
    ("P time: 160.27s", "#1f77b4"),
    ("pP time: 162.68s", "#ff7f0e"),
    ("PP time: 167.98s", "#7b4ea8"),
]
for (txt, col), yy in zip(legend_lines, [1050.5, 1064.8, 1079.0, 1092.5]):
    annotations.append(dict(x=1519 / W, y=1 - yy / H, xref="paper", yref="paper", text=txt,
                            showarrow=False, xanchor="left", yanchor="middle",
                            font=dict(family=FONT, size=FS, color=col)))

for yy in [242, 452, 664, 876]:
    shapes.append(dict(type="line", xref="paper", yref="paper", x0=0, x1=4 / W,
                       y0=1 - yy / H, y1=1 - yy / H, line=dict(color="#333333", width=1)))

layout["shapes"] = shapes
layout["annotations"] = annotations
fig.update_layout(**layout)
fig.write_html(
    "out.html",
    config={"displayModeBar": False},
    post_script="document.body.style.margin='0';document.body.style.padding='0';"
                "document.documentElement.style.overflow='hidden';",
)
